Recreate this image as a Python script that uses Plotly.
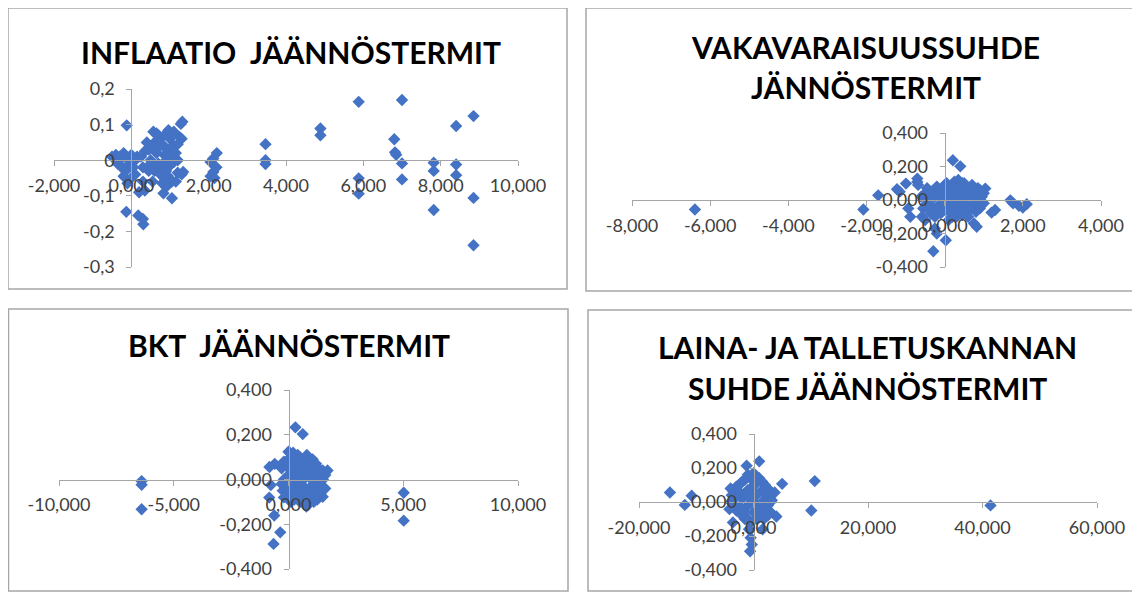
import plotly.graph_objects as go

# page body has an 8px margin; the figure is offset by it
OFF = 8
W, H = 1140 - OFF, 594 - OFF

# ---------------- data ----------------
# Panel 1: INFLAATIO JÄÄNNÖSTERMIT
inf_x = [-0.5, -0.4, -0.3, -0.2, -0.1, 0.0, 0.1, -0.35, -0.25, -0.15, -0.05, 0.05, -0.2, 0.0, -0.1, 0.1, -0.3, 0.15,
         -0.12, -0.13, 0.18, 0.31, 0.3,
         0.2, 0.35, 0.3, 0.45, 0.25, 0.35, 0.45, 0.5, 0.3,
         0.6, 0.7, 0.75, 0.8, 0.9, 1.0, 0.65, 0.85, 0.95, 1.1, 0.7, 0.8, 0.9, 1.0, 1.1, 1.2, 0.6, 0.75, 0.85, 0.95,
         1.05, 1.2, 1.3, 0.8, 0.9, 1.0, 0.55, 0.7, 1.25, 1.3, 1.32, 1.28, 0.83, 1.05, 1.2, 0.9, 0.96, 0.57, 1.34,
         0.4, 0.55, 1.15, 1.1, 0.65, 0.5, 1.15,
         2.05, 2.12, 2.21, 2.12, 2.05, 2.2, 2.15,
         3.47, 3.47, 3.47,
         4.89, 4.89,
         5.88, 5.88, 5.88,
         7.0, 6.8, 6.82, 6.85, 7.0, 7.0,
         7.82, 7.82, 7.82,
         8.4, 8.4, 8.4,
         8.85, 8.85, 8.85]
inf_y = [0.01, 0.015, 0.0, 0.02, 0.005, 0.015, 0.0, -0.01, -0.02, -0.03, -0.01, -0.02, -0.045, -0.05, -0.065, -0.04, 0.01, 0.01,
         0.098, -0.145, -0.155, -0.18, -0.165,
         -0.09, -0.085, -0.06, -0.03, 0.01, 0.025, 0.03, 0.0, -0.02,
         0.05, 0.07, 0.06, 0.045, 0.075, 0.06, 0.02, 0.015, 0.03, 0.04, -0.01, -0.02, 0.0, -0.015, -0.005, 0.0, -0.03, -0.04, -0.05, -0.045,
         -0.06, -0.035, -0.04, -0.065, -0.075, 0.01, 0.035, 0.035, 0.065, 0.06, 0.108, 0.102, -0.093, -0.107, 0.045, -0.03, 0.084, 0.08, -0.033,
         0.05, -0.06, -0.06, 0.08, 0.075, -0.01, 0.02,
         -0.005, 0.005, 0.02, -0.033, -0.045, -0.02, -0.05,
         0.045, 0.0, -0.011,
         0.089, 0.07,
         0.164, -0.051, -0.094,
         0.169, 0.059, 0.022, 0.015, -0.009, -0.054,
         -0.007, -0.03, -0.14,
         0.096, -0.012, -0.042,
         0.124, -0.106, -0.239]

# Panel 2: VAKAVARAISUUSSUHDE JÄNNÖSTERMIT
vak_x = [-6.39, -2.08, -1.70, -1.22, -1.15, -0.99, -0.70, -0.70, -0.68, -0.93, -0.88, -0.58, -0.5, -0.29, -0.2, -0.25,
         0.03, 0.21, 0.40, 0.82, 0.75, 1.04, 1.29, 1.2, 1.68, 1.75, 1.9, 2.1, 2.0,
         -0.6, -0.5, -0.45, -0.4, -0.35, -0.3, -0.25, -0.2, -0.15, -0.1, -0.05, 0.0, 0.05, 0.1, 0.1, 0.15, 0.2, 0.2,
         0.25, 0.3, 0.3, 0.35, 0.4, 0.4, 0.45, 0.5, 0.5, 0.55, 0.6, 0.65, 0.7, 0.75, 0.8, 0.85, 0.9, 0.95, 1.0,
         0.1, 0.0, -0.1, 0.35, 0.6, 0.45, 0.15, 0.25, -0.3, 0.05, 0.7,
         -0.55, -0.45, -0.35, -0.2, -0.1, 0.0, 0.05, 0.15, 0.2, 0.3, 0.35, 0.45, 0.55, 0.6, 0.7, 0.8, 0.85, 0.9,
         1.0, -0.4, 0.25, 0.5, -0.25, 0.65]
vak_y = [-0.057, -0.057, 0.028, 0.064, 0.05, 0.098, 0.128, 0.108, 0.09, -0.05, -0.10, -0.10, -0.12, -0.306, -0.2, -0.17,
         -0.24, 0.237, 0.201, -0.16, -0.14, 0.068, -0.06, -0.075, -0.002, -0.02, -0.035, -0.025, -0.045,
         0.02, 0.04, -0.02, 0.01, 0.05, -0.04, 0.02, -0.06, 0.03, -0.02, 0.06, 0.0, -0.04, 0.08, 0.03, -0.08, 0.05, -0.02,
         0.11, 0.0, -0.1, 0.07, -0.05, 0.03, 0.1, -0.02, 0.05, -0.08, 0.02, 0.06, -0.03, 0.04, 0.0, 0.07, -0.05, 0.02, -0.02,
         -0.12, 0.09, -0.08, -0.06, -0.06, 0.0, 0.0, -0.04, 0.03, 0.04, 0.09,
         -0.05, 0.07, -0.08, 0.08, 0.03, -0.05, 0.1, 0.06, -0.1, 0.05, 0.12, -0.09, 0.08, -0.1, 0.05, -0.07, 0.03, 0.06,
         0.04, -0.06, 0.02, 0.1, -0.1, -0.05]

# Panel 3: BKT JÄÄNNÖSTERMIT
bkt_x = [-6.4, -6.4, -6.4, 5.02, 5.02, 0.3, 0.62, -0.83, -0.6, -0.77, -0.84, -0.62, -0.36, -0.65, 0.0, 0.78,
         -0.3, -0.2, -0.25, -0.1, 0.0, 0.0, 0.1, 0.1, 0.15, 0.2, 0.25, 0.3, 0.35, 0.4, 0.45, 0.5, 0.5, 0.55, 0.6,
         0.65, 0.7, 0.75, 0.8, 0.85, 0.9, 0.95, 1.0, 1.05, 1.1, 1.15, 1.2, 1.25, 1.3, 1.35, 1.4, 1.49, 1.49, 1.4,
         1.5, 0.2, 0.05, 0.3, -0.1, 0.6, 0.9, 1.1,
         -0.2, -0.2, 0.0, 0.0, 0.1, 0.2, 0.3, 0.4, 0.4, 0.5, 0.6, 0.7, 0.7, 0.8, 0.8, 1.0, 1.0, 1.1, 1.2, 1.2,
         1.3, 1.6, 1.7, 1.6, 0.2, 0.5, 0.9, 1.3, -0.3, 0.1]
bkt_y = [-0.007, -0.024, -0.133, -0.059, -0.184, 0.233, 0.203, 0.056, 0.07, -0.025, -0.081, -0.161, -0.236, -0.288, 0.124, -0.121,
         0.05, 0.0, -0.05, 0.08, 0.02, -0.07, 0.1, 0.04, -0.03, 0.06, -0.09, 0.0, 0.08, -0.05, 0.03, 0.1, -0.02, 0.05, -0.08,
         0.0, 0.07, -0.04, 0.03, -0.06, 0.09, 0.01, -0.03, 0.09, 0.04, -0.05, 0.02, -0.09, 0.05, -0.02, 0.03, 0.04, -0.077, -0.06,
         0.0, -0.06, 0.12, 0.1, -0.03, 0.03, -0.09, -0.1,
         0.08, -0.08, 0.06, -0.02, -0.1, 0.12, -0.06, 0.11, 0.0, -0.1, 0.08, -0.1, 0.02, 0.11, -0.07, 0.06, 0.0, -0.02, 0.07, -0.07,
         0.0, 0.02, 0.04, -0.04, 0.0, 0.06, 0.04, -0.05, -0.02, -0.05]

# Panel 4: LAINA- JA TALLETUSKANNAN SUHDE JÄÄNNÖSTERMIT
lai_x = [-14.6, -10.8, -12.0, -4.2, -1.2, 1.0, 5.0, 3.7, 4.0, 10.7, 10.1, 41.4,
         -4, -3.5, -3, -2.5, -2, -2, -1.5, -1.5, -1, -1, -0.5, -0.5, 0, 0, 0.5, 0.5, 1, 1, 1.5, 1.5, 2, 2,
         2.5, 2.5, 3, 3, -3, -2.5, 0, -0.5, 1, 0.5, -1.5, 1.8, -0.8, -0.5, -0.3, -0.6, -3.6, 1.6, 3.2, -3.8,
         -3.5, -3, -2, -2.5, -1, -1, 0, 0, -0.5, 0.5, 1.5, 2, 2.5, 3, -2, -1.5, 0.5, 1.5, -4, 2.5]
lai_y = [0.056, 0.037, -0.017, -0.042, 0.213, 0.239, 0.107, 0.056, -0.085, 0.123, -0.05, -0.02,
         0.0, 0.06, -0.05, 0.1, 0.02, -0.08, 0.13, 0.05, -0.02, -0.1, 0.15, 0.08, 0.0, -0.06, 0.11, 0.04, -0.03, -0.09,
         0.07, 0.0, 0.1, -0.05, 0.03, -0.02, 0.06, -0.06, 0.03, -0.03, 0.12, -0.12, 0.14, -0.1, -0.06, -0.1, -0.16,
         -0.21, -0.25, -0.29, -0.12, -0.16, 0.01, 0.04,
         -0.02, 0.09, 0.12, 0.06, 0.07, 0.16, 0.06, 0.17, 0.02, -0.04, -0.06, 0.05, 0.08, 0.0, -0.04, -0.1, 0.15, 0.12, 0.08, -0.08]

titles = [["INFLAATIO\u00a0 JÄÄNNÖSTERMIT"],
          ["VAKAVARAISUUSSUHDE", "JÄNNÖSTERMIT"],
          ["BKT\u00a0 JÄÄNNÖSTERMIT"],
          ["LAINA- JA TALLETUSKANNAN", "SUHDE JÄÄNNÖSTERMIT"]]

inf_xticks = [-2, 0, 2, 4, 6, 8, 10]
inf_xlabels = ["-2,000", "0,000", "2,000", "4,000", "6,000", "8,000", "10,000"]
inf_yticks = [-0.3, -0.2, -0.1, 0, 0.1, 0.2]
inf_ylabels = ["-0,3", "-0,2", "-0,1", "0", "0,1", "0,2"]

vak_xticks = [-8, -6, -4, -2, 0, 2, 4]
vak_xlabels = ["-8,000", "-6,000", "-4,000", "-2,000", "0,000", "2,000", "4,000"]
bkt_xticks = [-10, -5, 0, 5, 10]
bkt_xlabels = ["-10,000", "-5,000", "0,000", "5,000", "10,000"]
lai_xticks = [-20, 0, 20, 40, 60]
lai_xlabels = ["-20,000", "0,000", "20,000", "40,000", "60,000"]
std_yticks = [-0.4, -0.2, 0, 0.2, 0.4]
std_ylabels = ["-0,400", "-0,200", "0,000", "0,200", "0,400"]

# ---------------- layout geometry (screen pixels) ----------------
panels = [
    dict(x=inf_x, y=inf_y, xr=[-2, 10], yr=[-0.3, 0.2], xt=inf_xticks, xl=inf_xlabels, yt=inf_yticks, yl=inf_ylabels,
         box=(8, 8, 567, 289), plot=(54, 518, 89, 267), title_y=[52], title_x=291),
    dict(x=vak_x, y=vak_y, xr=[-8, 4], yr=[-0.4, 0.4], xt=vak_xticks, xl=vak_xlabels, yt=std_yticks, yl=std_ylabels,
         box=(586, 8, 1139, 291), plot=(632, 1101, 133, 267), title_y=[47, 87], title_x=866),
    dict(x=bkt_x, y=bkt_y, xr=[-10, 10], yr=[-0.4, 0.4], xt=bkt_xticks, xl=bkt_xlabels, yt=std_yticks, yl=std_ylabels,
         box=(8.5, 309, 568, 591), plot=(59, 518, 390, 569), title_y=[345], title_x=289),
    dict(x=lai_x, y=lai_y, xr=[-20, 60], yr=[-0.4, 0.4], xt=lai_xticks, xl=lai_xlabels, yt=std_yticks, yl=std_ylabels,
         box=(588, 310, 1139, 591), plot=(639, 1097, 434, 570), title_y=[347, 388], title_x=867),
]


def fx(px):
    return (px - OFF) / W


def fy(py):
    return 1 - (py - OFF) / H


AXIS_COLOR = "#a6a6a6"
TICK_FONT = dict(family="Lato, Carlito, sans-serif", size=18, color="#404040")
TITLE_FONT = dict(family="Lato, Carlito, sans-serif", size=30, color="#000000", weight="bold")

fig = go.Figure()
layout = dict(width=W, height=H, margin=dict(l=0, r=0, t=0, b=0), paper_bgcolor="white",
              plot_bgcolor="rgba(0,0,0,0)", showlegend=False, shapes=[], annotations=[])

for i, p in enumerate(panels, start=1):
    sfx = "" if i == 1 else str(i)
    l, r, t, b = p["plot"]
    xd = [fx(l), fx(r)]
    yd = [fy(b), fy(t)]
    xr, yr = p["xr"], p["yr"]
    ypos = yd[0] + (0 - yr[0]) / (yr[1] - yr[0]) * (yd[1] - yd[0])
    xpos = xd[0] + (0 - xr[0]) / (xr[1] - xr[0]) * (xd[1] - xd[0])
    fig.add_trace(go.Scatter(x=p["x"], y=p["y"], mode="markers", xaxis="x" + sfx, yaxis="y" + sfx,
                             marker=dict(symbol="diamond", size=9.5, color="#4472C4", line=dict(width=0)),
                             cliponaxis=False, hoverinfo="x+y"))
    layout["xaxis" + sfx] = dict(domain=xd, range=xr, anchor="free", position=ypos, showgrid=False, zeroline=False,
                                 showline=True, linecolor=AXIS_COLOR, linewidth=1, ticks="outside", ticklen=5,
                                 tickcolor=AXIS_COLOR, tickvals=p["xt"], ticktext=p["xl"], tickfont=TICK_FONT,
                                 tickangle=0, ticklabelstandoff=4, automargin=False, fixedrange=True)
    layout["yaxis" + sfx] = dict(domain=yd, range=yr, anchor="free", position=xpos, showgrid=False, zeroline=False,
                                 showline=True, linecolor=AXIS_COLOR, linewidth=1, ticks="outside", ticklen=5,
                                 tickcolor=AXIS_COLOR, tickvals=p["yt"], ticktext=p["yl"], tickfont=TICK_FONT,
                                 ticklabelstandoff=8, automargin=False, fixedrange=True)
    x0, y0, x1, y1 = p["box"]
    layout["shapes"].append(dict(type="rect", xref="paper", yref="paper", x0=fx(x0), x1=fx(x1), y0=fy(y1), y1=fy(y0),
                                 line=dict(color=AXIS_COLOR, width=1.5), layer="below"))
    for line, ty in zip(titles[i - 1], p["title_y"]):
        layout["annotations"].append(dict(text=line, xref="paper", yref="paper", x=fx(p["title_x"]), y=fy(ty),
                                          xanchor="center", yanchor="middle", showarrow=False, font=TITLE_FONT))

fig.update_layout(**layout)
fig.write_html("out.html")
